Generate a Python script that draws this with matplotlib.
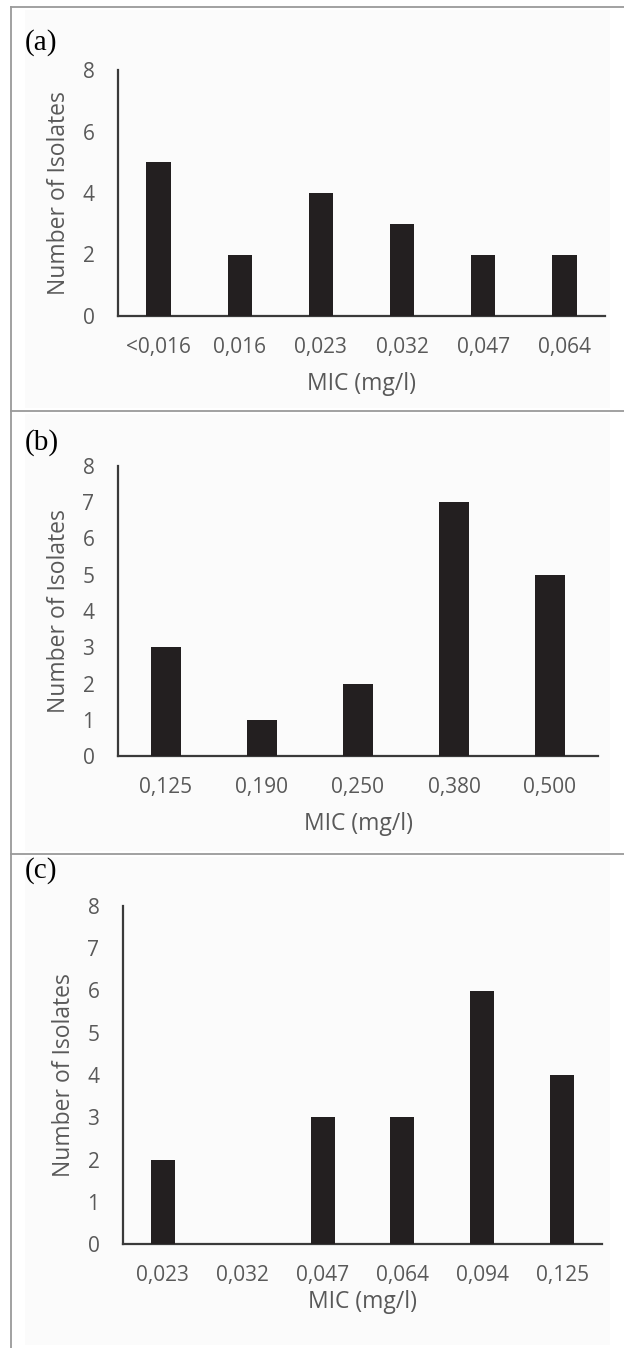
import matplotlib.pyplot as plt
from matplotlib.lines import Line2D
from matplotlib.patches import Rectangle

# --------------------------
# Données
# --------------------------
mic_a = ["<0,016", "0,016", "0,023", "0,032", "0,047", "0,064"]
count_a = [5, 2, 4, 3, 2, 2]

mic_b = ["0,125", "0,190", "0,250", "0,380", "0,500"]
count_b = [3, 1, 2, 7, 5]

mic_c = ["0,023", "0,032", "0,047", "0,064", "0,094", "0,125"]
count_c = [2, 0, 3, 3, 6, 4]

yticks_a = [0, 2, 4, 6, 8]
yticks_bc = [0, 1, 2, 3, 4, 5, 6, 7, 8]

# --------------------------
# Mise en page (pixels)
# --------------------------
W, H = 624, 1348
fig = plt.figure(figsize=(W / 100, H / 100), dpi=100)
fig.patch.set_facecolor("white")

FONT = "Open Sans"
GRAY = "#595959"
BAR = "#231f20"
AXIS = "#3a3a3a"


def px_axes(left, right, top, bottom):
    return fig.add_axes([left / W, 1 - bottom / H, (right - left) / W, (bottom - top) / H])


# fond légèrement gris + cadre
for top, bottom in [(10, 408), (414, 851), (857, 1345)]:
    fig.add_artist(Rectangle((25 / W, 1 - bottom / H), (610 - 25) / W, (bottom - top) / H,
                             transform=fig.transFigure, facecolor="#fbfbfb", edgecolor="none", zorder=0))

line_kw = dict(color="#9a9a9a", linewidth=1.3, transform=fig.transFigure)
fig.add_artist(Line2D([11 / W, 1], [1 - 7 / H] * 2, **line_kw))
fig.add_artist(Line2D([11 / W, 1], [1 - 411 / H] * 2, **line_kw))
fig.add_artist(Line2D([11 / W, 1], [1 - 854 / H] * 2, **line_kw))
fig.add_artist(Line2D([11 / W] * 2, [1 - 7 / H, 0], **line_kw))


def tracer(ax, cats, vals, yticks, width, xpad):
    x = range(len(cats))
    ax.bar(x, vals, width=width, color=BAR, zorder=3)
    ax.set_xlim(-0.5, len(cats) - 0.5)
    ax.set_ylim(0, 8)
    ax.set_xticks(list(x))
    ax.set_xticklabels(cats)
    ax.set_yticks(yticks)
    ax.patch.set_alpha(0)
    for s in ["top", "right"]:
        ax.spines[s].set_visible(False)
    for s in ["left", "bottom"]:
        ax.spines[s].set_color(AXIS)
        ax.spines[s].set_linewidth(1.6)
    ax.tick_params(axis="both", length=0, colors=GRAY, labelsize=15)
    ax.tick_params(axis="x", pad=15)
    ax.tick_params(axis="y", pad=17)
    for lab in ax.get_xticklabels() + ax.get_yticklabels():
        lab.set_fontfamily(FONT)
    ax.set_xlabel("MIC (mg/l)", fontsize=16.5, color=GRAY, fontfamily=FONT, labelpad=xpad)
    ax.set_ylabel("Number of Isolates", fontsize=16.5, color=GRAY, fontfamily=FONT, labelpad=8)


ax_a = px_axes(118, 605, 70, 316)
tracer(ax_a, mic_a, count_a, yticks_a, 0.3, 10)

ax_b = px_axes(118, 598, 466, 756)
tracer(ax_b, mic_b, count_b, yticks_bc, 0.31, 10)

ax_c = px_axes(123, 602, 906, 1244)
tracer(ax_c, mic_c, count_c, yticks_bc, 0.3, 3)

# lettres des panneaux
for lettre, y in [("(a)", 43), ("(b)", 443), ("(c)", 871)]:
    fig.text(25 / W, 1 - y / H, lettre, fontsize=21, fontfamily="Liberation Serif",
             color="black", va="center", ha="left")

fig.savefig("out.png", dpi=100, facecolor=fig.get_facecolor())
